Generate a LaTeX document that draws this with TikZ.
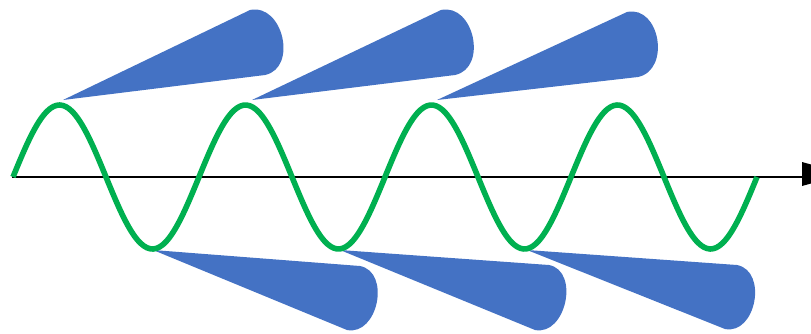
\documentclass[tikz,border=0pt]{standalone}
\usetikzlibrary{calc}
\definecolor{wavegreen}{HTML}{00B050}
\definecolor{coneblue}{HTML}{4472C4}
\tikzset{
  cone/.style={fill=coneblue, draw=none},
  wave/.style={draw=wavegreen, line width=5.6pt, line join=round},
  axisline/.style={draw=black, line width=2.4pt},
}
\begin{document}
\begin{tikzpicture}[x=1pt,y=-1pt]
\useasboundingbox (0,0) rectangle (811,333);
\clip (0,0) rectangle (811,333);
% top cones
\foreach \ax/\px/\py/\qx/\qy in {63/250/10/265/75, 252/441/10/455/75, 437/627/12/638/77}{
  \fill[cone] (\ax,100) -- (\px,\py) .. controls (\px+33,\py-7) and (\qx+33,\qy-7) .. (\qx,\qy) -- cycle;
}
% bottom cones
\foreach \ax/\px/\py/\qx/\qy in {153/360/266/347/330, 340/549/265/535/330, 527/737/265/725/329}{
  \fill[cone] (\ax,250) -- (\px,\py) .. controls (\px+31,\py+6) and (\qx+31,\qy+6) .. (\qx,\qy) -- cycle;
}
% axis
\draw[axisline] (12,177) -- (803,177);
\fill[black] (802,162) -- (802,186) -- (845,174) -- cycle;
% wave
\draw[wave] plot[domain=0:1440, samples=240, smooth] ({13+\x/360*186}, {177-72*sin(\x)});
\end{tikzpicture}
\end{document}
